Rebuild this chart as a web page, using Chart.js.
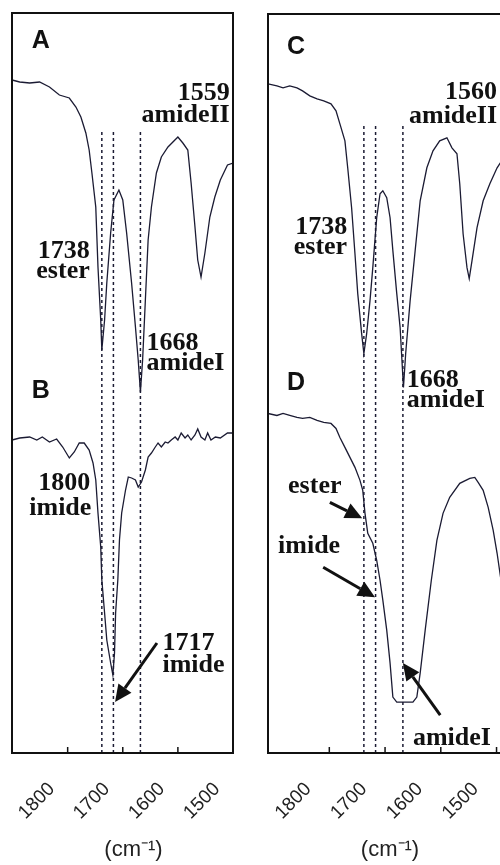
<!DOCTYPE html>
<html>
<head>
<meta charset="utf-8">
<script src="https://cdn.jsdelivr.net/npm/chart.js@4.4.0/dist/chart.umd.min.js"></script>
<style>
  html, body { margin: 0; padding: 0; background: #fff; overflow: hidden; }
  .panel { position: absolute; top: 0; height: 865px; }
</style>
</head>
<body>
<div class="panel" style="left:0;width:245px"><canvas id="chartL"></canvas></div>
<div class="panel" style="left:250px;width:251px"><canvas id="chartR"></canvas></div>
<script>
// wavenumber ticks and marker lines (cm-1)
const TICKS = [1800, 1700, 1600, 1500];
const MARKERS = [1738, 1717, 1668];
const UNIT = '(cm⁻¹)';

// trace A (upper left)
const A_WN = [1901,1887,1869,1851,1833,1815,1797,1785,1776,1767,1761,1756,1749,1745,1740,1738,1733,1729,1722,1716,1707,1700,1693,1684,1677,1672,1668,1664,1659,1654,1648,1639,1630,1618,1600,1591,1582,1576,1569,1564,1558,1551,1542,1533,1523,1510,1500];
const A_SIG = [673,671,670,671,666,658,655,646,636,620,603,580,546,486,433,403,433,470,520,553,563,553,520,470,426,393,361,393,453,513,546,580,596,606,616,610,603,570,526,493,476,500,536,556,573,588,590];

// trace B (lower left)
const B_WN = [1901,1887,1869,1856,1846,1833,1820,1809,1797,1788,1779,1770,1761,1754,1749,1745,1740,1738,1733,1729,1722,1718,1715,1713,1709,1706,1702,1695,1690,1684,1677,1672,1666,1659,1654,1648,1641,1636,1630,1623,1618,1612,1605,1600,1594,1587,1582,1576,1569,1564,1558,1551,1546,1540,1532,1523,1510,1500];
const B_SIG = [313,315,316,313,316,311,314,306,295,301,310,310,303,290,273,240,206,173,140,113,90,78,100,140,173,213,240,263,276,275,273,266,271,283,296,300,306,310,306,311,310,313,316,313,320,315,318,313,318,324,316,313,320,313,316,315,320,320];

// trace C (upper right)
const C_WN = [1910,1894,1883,1871,1858,1848,1835,1822,1810,1797,1788,1781,1772,1767,1760,1754,1749,1742,1738,1733,1727,1722,1715,1709,1704,1697,1691,1686,1679,1673,1667,1663,1655,1646,1637,1625,1614,1602,1589,1580,1571,1566,1560,1553,1549,1544,1535,1524,1512,1499,1492];
const C_SIG = [670,668,666,668,666,663,658,655,653,650,643,630,613,586,546,500,460,420,400,420,453,486,536,560,563,556,536,503,460,426,366,400,453,503,553,586,603,613,616,606,600,570,520,486,475,493,526,553,570,586,592];

// trace D (lower right)
const D_WN = [1910,1894,1883,1871,1858,1848,1835,1822,1810,1797,1788,1781,1772,1763,1754,1745,1740,1736,1731,1722,1715,1709,1704,1697,1691,1686,1679,1668,1650,1643,1637,1628,1617,1607,1596,1584,1566,1548,1539,1533,1524,1515,1506,1499,1492];
const D_SIG = [340,338,340,338,336,335,336,333,331,330,325,316,306,296,286,273,263,240,220,210,193,173,153,123,90,56,51,51,51,56,80,123,173,213,240,256,270,275,276,271,263,246,223,200,173];

const LINE = '#1b1b33';

function pts(xs, ys) {
    return xs.map((x, i) => ({x: x, y: ys[i]}));
}

const decor = {
    id: 'decor',
    afterDatasetsDraw(chart, args, opts) {
        const ctx = chart.ctx;
        const a = chart.chartArea;
        const xs = chart.scales.x, ys = chart.scales.y;
        ctx.save();
        // frame
        ctx.strokeStyle = '#111';
        ctx.lineWidth = 2;
        ctx.strokeRect(a.left, a.top, a.right - a.left, a.bottom - a.top);
        // inward tick marks
        ctx.lineWidth = 1.5;
        TICKS.forEach(t => {
            const px = xs.getPixelForValue(t);
            if (px > a.left + 2 && px < a.right - 2) {
                ctx.beginPath();
                ctx.moveTo(px, a.bottom);
                ctx.lineTo(px, a.bottom - 6);
                ctx.stroke();
            }
        });
        // text
        ctx.fillStyle = '#111';
        ctx.textBaseline = 'alphabetic';
        opts.labels.forEach(l => {
            ctx.font = l.panel ? 'bold 25px "Liberation Sans"' : 'bold 26px "Liberation Serif"';
            ctx.textAlign = l.align;
            ctx.fillText(l.text, xs.getPixelForValue(l.x), ys.getPixelForValue(l.y));
        });
        // arrows
        ctx.strokeStyle = '#111';
        opts.arrows.forEach(ar => {
            const x1 = xs.getPixelForValue(ar[0]), y1 = ys.getPixelForValue(ar[1]);
            const x2 = xs.getPixelForValue(ar[2]), y2 = ys.getPixelForValue(ar[3]);
            const ang = Math.atan2(y2 - y1, x2 - x1);
            const hl = 17, hw = 8;
            const bx = x2 - hl * Math.cos(ang), by = y2 - hl * Math.sin(ang);
            ctx.lineWidth = 3;
            ctx.beginPath();
            ctx.moveTo(x1, y1);
            ctx.lineTo(bx, by);
            ctx.stroke();
            ctx.beginPath();
            ctx.moveTo(x2, y2);
            ctx.lineTo(bx + hw * Math.sin(ang), by - hw * Math.cos(ang));
            ctx.lineTo(bx - hw * Math.sin(ang), by + hw * Math.cos(ang));
            ctx.closePath();
            ctx.fill();
        });
        ctx.restore();
    }
};

function buildPanel(id, upper, lower, xmax, xmin, markTop, padding, labelShift, titleText, labels, arrows) {
    const datasets = MARKERS.map(m => ({
        data: [{x: m, y: 0}, {x: m, y: markTop}],
        borderColor: LINE,
        borderWidth: 1.5,
        borderDash: [3, 3],
        pointRadius: 0
    }));
    [upper, lower].forEach(d => datasets.push({
        data: d,
        borderColor: LINE,
        borderWidth: 1.3,
        pointRadius: 0,
        tension: 0
    }));

    return new Chart(document.getElementById(id), {
        type: 'line',
        data: {datasets: datasets},
        options: {
            responsive: true,
            maintainAspectRatio: false,
            animation: false,
            layout: {padding: padding},
            plugins: {
                legend: {display: false},
                tooltip: {enabled: false},
                decor: {labels: labels, arrows: arrows}
            },
            scales: {
                x: {
                    type: 'linear',
                    reverse: true,
                    min: xmin,
                    max: xmax,
                    afterBuildTicks: axis => { axis.ticks = TICKS.map(v => ({value: v})); },
                    afterFit: axis => {
                        axis.height = 112;
                        axis.paddingLeft = 0;
                        axis.paddingRight = 0;
                    },
                    grid: {display: false, drawTicks: false},
                    border: {display: false},
                    ticks: {
                        minRotation: 45,
                        maxRotation: 45,
                        padding: 25,
                        labelOffset: labelShift,
                        color: '#222',
                        font: {family: 'Liberation Sans', size: 19},
                        callback: v => String(v)
                    },
                    title: {
                        display: true,
                        text: titleText,
                        color: '#222',
                        font: {family: 'Liberation Sans', size: 22},
                        padding: {top: 0, bottom: 2}
                    }
                },
                y: {display: false, min: 0, max: 740}
            }
        },
        plugins: [decor]
    });
}

buildPanel('chartL', pts(A_WN, A_SIG), pts(B_WN, B_SIG), 1901, 1500, 621,
    {left: 12, top: 13, right: 12, bottom: 0}, -16, '\u2002\u2002' + UNIT,
    [
        {text: 'A', x: 1865, y: 705, align: 'left', panel: true},
        {text: 'B', x: 1865, y: 355, align: 'left', panel: true},
        {text: '1559', x: 1506, y: 653, align: 'right'},
        {text: 'amideII', x: 1506, y: 631, align: 'right'},
        {text: '1738', x: 1760, y: 495, align: 'right'},
        {text: 'ester', x: 1760, y: 475, align: 'right'},
        {text: '1668', x: 1657, y: 403, align: 'left'},
        {text: 'amideI', x: 1657, y: 383, align: 'left'},
        {text: '1800', x: 1759, y: 263, align: 'right'},
        {text: 'imide', x: 1757, y: 238, align: 'right'},
        {text: '1717', x: 1628, y: 103, align: 'left'},
        {text: 'imide', x: 1628, y: 81, align: 'left'}
    ],
    [[1638, 110, 1714, 51]]);

buildPanel('chartR', pts(C_WN, C_SIG), pts(D_WN, D_SIG), 1910, 1492, 630,
    {left: 18, top: 14, right: 0, bottom: 0}, -21, '\u2002' + UNIT,
    [
        {text: 'C', x: 1876, y: 700, align: 'left', panel: true},
        {text: 'D', x: 1876, y: 363, align: 'left', panel: true},
        {text: '1560', x: 1499, y: 655, align: 'right'},
        {text: 'amideII', x: 1499, y: 631, align: 'right'},
        {text: '1738', x: 1768, y: 520, align: 'right'},
        {text: 'ester', x: 1768, y: 500, align: 'right'},
        {text: '1668', x: 1661, y: 366, align: 'left'},
        {text: 'amideI', x: 1661, y: 346, align: 'left'},
        {text: 'ester', x: 1874, y: 260, align: 'left'},
        {text: 'imide', x: 1892, y: 200, align: 'left'},
        {text: 'amideI', x: 1650, y: 8, align: 'left'}
    ],
    [[1799, 251, 1741, 235], [1811, 186, 1718, 156], [1601, 38, 1668, 90]]);
</script>
</body>
</html>
